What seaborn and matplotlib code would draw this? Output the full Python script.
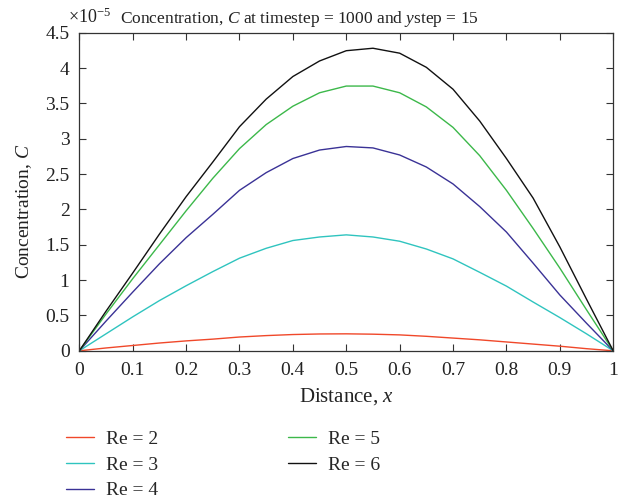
import numpy as np
import pandas as pd
import matplotlib
matplotlib.use("Agg")
import matplotlib.pyplot as plt
import seaborn as sns

# Distance along the channel
distance = [0.00, 0.05, 0.10, 0.15, 0.20, 0.25, 0.30, 0.35, 0.40, 0.45, 0.50,
            0.55, 0.60, 0.65, 0.70, 0.75, 0.80, 0.85, 0.90, 0.95, 1.00]

# Concentration profiles (units of 1e-5) for each Reynolds number
conc_re2 = [0, 0.04, 0.075, 0.11, 0.14, 0.165, 0.195, 0.215, 0.23, 0.238, 0.24,
            0.235, 0.225, 0.205, 0.18, 0.155, 0.125, 0.095, 0.065, 0.03, 0]
conc_re3 = [0, 0.24, 0.48, 0.71, 0.92, 1.12, 1.31, 1.45, 1.56, 1.61, 1.64,
            1.61, 1.55, 1.44, 1.30, 1.11, 0.915, 0.69, 0.47, 0.24, 0]
conc_re4 = [0, 0.42, 0.83, 1.23, 1.60, 1.93, 2.27, 2.52, 2.72, 2.84, 2.89,
            2.87, 2.77, 2.60, 2.36, 2.04, 1.68, 1.24, 0.79, 0.39, 0]
conc_re5 = [0, 0.52, 1.02, 1.50, 1.98, 2.44, 2.86, 3.20, 3.46, 3.65, 3.745,
            3.745, 3.65, 3.45, 3.16, 2.76, 2.27, 1.73, 1.17, 0.58, 0]
conc_re6 = [0, 0.56, 1.10, 1.65, 2.18, 2.67, 3.17, 3.56, 3.88, 4.10, 4.245,
            4.28, 4.21, 4.01, 3.70, 3.25, 2.72, 2.16, 1.47, 0.73, 0]

series_labels = ["Re = 2", "Re = 3", "Re = 4", "Re = 5", "Re = 6"]
series_colors = ["#f0482a", "#2fc4bf", "#3a3296", "#3cb84a", "#111111"]

y_ticks = [0, 0.5, 1, 1.5, 2, 2.5, 3, 3.5, 4, 4.5]
x_ticks = [0, 0.1, 0.2, 0.3, 0.4, 0.5, 0.6, 0.7, 0.8, 0.9, 1]

frames = []
for label, vals in zip(series_labels, [conc_re2, conc_re3, conc_re4, conc_re5, conc_re6]):
    frames.append(pd.DataFrame({"Distance": distance, "Concentration": vals, "Series": label}))
df = pd.concat(frames, ignore_index=True)

sns.set_theme(style="white")
plt.rcParams["font.family"] = ["Liberation Serif", "DejaVu Serif"]
plt.rcParams["mathtext.fontset"] = "custom"
plt.rcParams["mathtext.rm"] = "Liberation Serif"
plt.rcParams["mathtext.it"] = "Liberation Serif:italic"

fig = plt.figure(figsize=(6.27, 4.99), dpi=100)
ax = fig.add_axes([0.1265, 0.297, 0.8515, 0.6375])

sns.lineplot(data=df, x="Distance", y="Concentration", hue="Series",
             palette=dict(zip(series_labels, series_colors)),
             linewidth=1.0, ax=ax, legend=True, sort=False)

ax.set_xlim(0, 1)
ax.set_ylim(0, 4.5)
ax.set_xticks(x_ticks)
ax.set_yticks(y_ticks)
ax.set_xticklabels([f"{t:g}" for t in x_ticks])
ax.set_yticklabels([f"{t:g}" for t in y_ticks])
ax.tick_params(direction="in", length=5, width=0.8, color="#333333",
               labelsize=14, labelcolor="#222222", top=True, right=True,
               bottom=True, left=True)
ax.tick_params(axis="y", pad=7)
ax.tick_params(axis="x", pad=8)
for sp in ax.spines.values():
    sp.set_color("#333333")
    sp.set_linewidth(0.9)

ax.set_xlabel("Distance, $x$", fontsize=15, color="#222222", labelpad=5)
ax.set_ylabel("Concentration, $C$", fontsize=14, color="#222222")
ax.yaxis.set_label_coords(-0.085, 0.438)

fig.text(0.108, 0.953, r"$\times10^{-5}$", fontsize=13, color="#222222",
         ha="left", va="baseline")
fig.text(0.191, 0.953, "Concentration, $C$ at timestep = 1000 and $y$step = 15",
         fontsize=12.5, color="#222222", ha="left", va="baseline")

handles, labels = ax.get_legend_handles_labels()
ax.legend(handles, labels, ncol=2, frameon=False, loc="upper left",
          bbox_to_anchor=(-0.04, -0.225), fontsize=14, handlelength=1.45,
          handletextpad=0.6, columnspacing=6.7, labelspacing=0.42,
          borderaxespad=0)

fig.savefig("out.png", dpi=100)
